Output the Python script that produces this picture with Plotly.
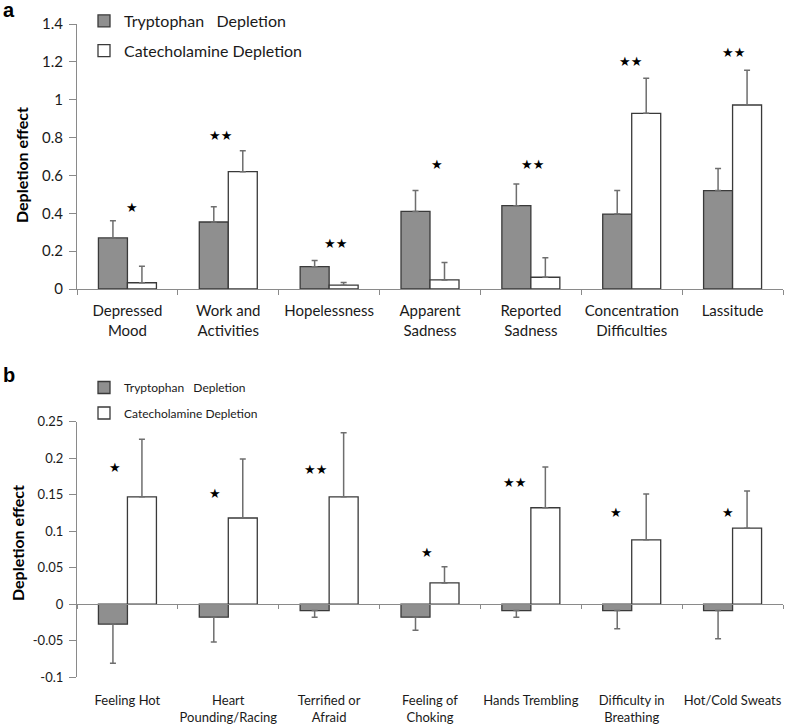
import plotly.graph_objects as go

# ---------------- data ----------------
categories_a = ["Depressed<br>Mood", "Work and<br>Activities", "Hopelessness", "Apparent<br>Sadness",
                "Reported<br>Sadness", "Concentration<br>Difficulties", "Lassitude"]
trp_a = [0.27, 0.354, 0.118, 0.41, 0.44, 0.396, 0.52]
trp_a_err = [0.09, 0.08, 0.033, 0.11, 0.115, 0.125, 0.117]
cat_a = [0.033, 0.62, 0.02, 0.048, 0.062, 0.928, 0.972]
cat_a_err = [0.087, 0.11, 0.015, 0.092, 0.103, 0.185, 0.183]
stars_a = ["★", "★★", "★★", "★", "★★", "★★", "★★"]
stars_a_y = [0.433, 0.81, 0.243, 0.66, 0.66, 1.2, 1.25]

categories_b = ["Feeling Hot", "Heart<br>Pounding/Racing", "Terrified or<br>Afraid", "Feeling of<br>Choking",
                "Hands Trembling", "Difficulty in<br>Breathing", "Hot/Cold Sweats"]
trp_b = [-0.0275, -0.018, -0.009, -0.018, -0.009, -0.009, -0.009]
trp_b_err = [0.0535, 0.034, 0.009, 0.018, 0.009, 0.025, 0.0385]
cat_b = [0.147, 0.118, 0.147, 0.029, 0.132, 0.088, 0.104]
cat_b_err = [0.079, 0.081, 0.088, 0.022, 0.056, 0.063, 0.051]
stars_b = ["★", "★", "★★", "★", "★★", "★", "★"]
stars_b_y = [0.187, 0.151, 0.185, 0.071, 0.167, 0.126, 0.126]

yticks_a = [0, 0.2, 0.4, 0.6, 0.8, 1, 1.2, 1.4]
yticklabels_a = ["0", "0.2", "0.4", "0.6", "0.8", "1", "1.2", "1.4"]
yticks_b = [-0.1, -0.05, 0, 0.05, 0.1, 0.15, 0.2, 0.25]
yticklabels_b = ["-0.1", "-0.05", "0", "0.05", "0.1", "0.15", "0.2", "0.25"]

names = ["Tryptophan\u00a0\u00a0 Depletion", "Catecholamine Depletion"]

# ---------------- style ----------------
W, H = 787, 724
ML, MR, MT, MB = 77, 4, 24, 47
PW, PH = W - ML - MR, H - MT - MB
FONT = "Lato, 'Open Sans', sans-serif"
GRAY = "#8f8f8f"
EDGE = "#3a3a3a"
ERRC = "#6e6e6e"
AXC = "#8a8a8a"


def px2x(px):
    return (px - ML) / PW


def py2y(py):
    return (H - MB - py) / PH


dom_a = [py2y(289), 1.0]
dom_b = [0.0, py2y(421.7)]
ra = [0, 1.4]
rb = [-0.1, 0.25]
zero_b = dom_b[0] + (0 - rb[0]) / (rb[1] - rb[0]) * (dom_b[1] - dom_b[0])

fig = go.Figure()


def bar(x, y, err, fill, name, xa, ya, leg, grp, neg=False):
    n = len(y)
    if neg:
        ed = dict(type="data", array=[0] * n, arrayminus=err, symmetric=False)
    else:
        ed = dict(type="data", array=err, arrayminus=[0] * n, symmetric=False)
    ed.update(color=ERRC, thickness=1.5, width=3)
    return go.Bar(x=x, y=y, name=name, xaxis=xa, yaxis=ya, legend=leg, legendgroup=grp,
                  marker=dict(color=fill, line=dict(color=EDGE, width=1.3)), error_y=ed)


fig.add_trace(bar(categories_a, trp_a, trp_a_err, GRAY, names[0], "x", "y", "legend", "a1"))
fig.add_trace(bar(categories_a, cat_a, cat_a_err, "white", names[1], "x", "y", "legend", "a2"))
fig.add_trace(bar(categories_b, trp_b, trp_b_err, GRAY, names[0], "x2", "y2", "legend2", "b1", neg=True))
fig.add_trace(bar(categories_b, cat_b, cat_b_err, "white", names[1], "x2", "y2", "legend2", "b2"))

axis_common = dict(showline=True, linecolor=AXC, linewidth=1.2, showgrid=False, zeroline=False,
                   ticks="outside", tickcolor=AXC, tickwidth=1.2, automargin=False)

fig.update_layout(
    width=W, height=H,
    margin=dict(l=ML, r=MR, t=MT, b=MB, autoexpand=False),
    paper_bgcolor="white", plot_bgcolor="white",
    barmode="group", bargap=0.425, bargroupgap=0,
    font=dict(family=FONT, color="#1a1a1a"),
    xaxis=dict(domain=[0, 1], anchor="y", type="category", tickson="boundaries", ticklen=5, tickangle=0,
               ticklabelstandoff=8,
               tickfont=dict(size=15, family=FONT, color="#1a1a1a"), **axis_common),
    yaxis=dict(domain=dom_a, anchor="x", range=ra, tickvals=yticks_a, ticktext=yticklabels_a, ticklen=7,
               ticklabelstandoff=3,
               tickfont=dict(size=15, family=FONT, color="#1a1a1a"), **axis_common),
    xaxis2=dict(domain=[0, 1], anchor="free", position=zero_b, type="category", tickson="boundaries",
                ticklen=4, ticklabelstandoff=84, tickangle=0,
                tickfont=dict(size=13, family=FONT, color="#1a1a1a"), **axis_common),
    yaxis2=dict(domain=dom_b, anchor="x2", range=rb, tickvals=yticks_b, ticktext=yticklabels_b, ticklen=7,
                ticklabelstandoff=3,
                tickfont=dict(size=13, family=FONT, color="#1a1a1a"), **axis_common),
    legend=dict(x=px2x(84), y=py2y(4), xanchor="left", yanchor="top", bgcolor="rgba(0,0,0,0)",
                font=dict(size=16, family=FONT, color="#1a1a1a"), tracegroupgap=6, traceorder="grouped"),
    legend2=dict(x=px2x(84), y=py2y(373), xanchor="left", yanchor="top", bgcolor="rgba(0,0,0,0)",
                 font=dict(size=12, family=FONT, color="#1a1a1a"), tracegroupgap=6.5, traceorder="grouped"),
    showlegend=True,
)

ann = []
shifts_a = [5, -8, 6, 7, 2, -1, 1]
for c, yv, t, s in zip(categories_a, stars_a_y, stars_a, shifts_a):
    ann.append(dict(x=c, y=yv, xref="x", yref="y", text=t, showarrow=False, xshift=s,
                    font=dict(family="DejaVu Sans", size=13, color="black")))
shifts_b = [-12, -13, -14, -3, -16, -16, -5]
for c, yv, t, s in zip(categories_b, stars_b_y, stars_b, shifts_b):
    ann.append(dict(x=c, y=yv, xref="x2", yref="y2", text=t, showarrow=False, xshift=s,
                    font=dict(family="DejaVu Sans", size=13, color="black")))

ann.append(dict(x=px2x(22), y=py2y(165), xref="paper", yref="paper", text="<b>Depletion effect</b>",
                xanchor="center", yanchor="middle",
                textangle=-90, showarrow=False, font=dict(size=16, family=FONT, color="black")))
ann.append(dict(x=px2x(17), y=py2y(543), xref="paper", yref="paper", text="<b>Depletion effect</b>",
                xanchor="center", yanchor="middle",
                textangle=-90, showarrow=False, font=dict(size=16, family=FONT, color="black")))
ann.append(dict(x=px2x(9), y=py2y(10), xref="paper", yref="paper", text="<b>a</b>",
                xanchor="center", yanchor="middle",
                showarrow=False, font=dict(size=20, family="Liberation Sans", color="black")))
ann.append(dict(x=px2x(9), y=py2y(375), xref="paper", yref="paper", text="<b>b</b>",
                xanchor="center", yanchor="middle",
                showarrow=False, font=dict(size=20, family="Liberation Sans", color="black")))
fig.update_layout(annotations=ann)

fig.write_html("out.html", config={"displayModeBar": False},
               post_script="document.body.style.margin='0';")
